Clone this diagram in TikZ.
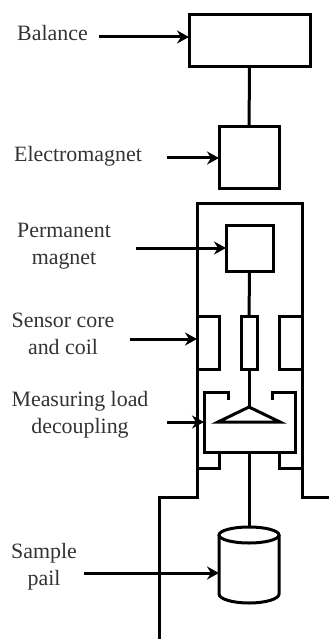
\documentclass[tikz,border=0pt]{standalone}
\usepackage{fontspec}
\setmainfont{Liberation Serif}
\usetikzlibrary{arrows.meta,positioning}

\begin{document}
\begin{tikzpicture}[x=1pt,y=-1pt]
\tikzstyle{part}=[rectangle,draw,line width=3pt,inner sep=0pt,outer sep=0pt]
\tikzstyle{lbl}=[inner sep=0pt,font=\fontsize{21.9}{27}\selectfont,text=black!80]
\tikzstyle{wall}=[line width=3pt,line join=miter]
\tikzstyle{pointer}=[line width=3pt,-{Stealth[length=12pt,width=13pt,inset=4pt]}]
\useasboundingbox (0,0) rectangle (329,639);
% boxes
\node[part,minimum width=121,minimum height=52] (balance) at (249.5,41) {};
\node[part,minimum width=60,minimum height=61] (emagnet) at (249,157.5) {};
\node[part,minimum width=47,minimum height=46] (pmagnet) at (249.5,248) {};
\node[part,minimum width=16,minimum height=53] (corerod) at (249,342.5) {};
\node[part,minimum width=22,minimum height=53] (coilleft) at (208,342.5) {};
\node[part,minimum width=23,minimum height=53] (coilright) at (290.5,342.5) {};
% frame
\draw[wall] (329,497) -- (302,497) -- (302,203) -- (197,203) -- (197,497) -- (159,497) -- (159,639);
% load decoupling
\coordinate (apex) at (249,407);
\coordinate (cupbase) at (249,452);
\draw[wall] (228,400) -- (228,392) -- (204,392) -- (204,452) -- (295,452) -- (295,392) -- (272,392) -- (272,400);
\draw[wall] (197,468) -- (219,468) -- (219,452);
\draw[wall] (302,468) -- (279,468) -- (279,452);
\draw[wall] (apex) -- (218,422) -- (280,422) -- cycle;
% pail
\coordinate (pailtop) at (249,527);
\draw[wall] (249,535) ellipse (30 and 8);
\draw[wall] (219,535) -- (219,594) arc[start angle=180,end angle=0,x radius=30,y radius=9] -- (279,535);
% links
\draw[wall] (balance) -- (emagnet);
\draw[wall] (pmagnet) -- (corerod);
\draw[wall] (corerod) -- (apex);
\draw[wall] (cupbase) -- (pailtop);
% labels
\node[lbl,anchor=base west] (balancetxt) at (17,41) {Balance};
\node[lbl,anchor=base west] (emagnettxt) at (14,162) {Electromagnet};
\node[lbl,align=center] (pmagnettxt) at (64,246.6) {Permanent\\magnet};
\node[lbl,align=center] (coiltxt) at (63,333.8) {Sensor core\\and coil};
\node[lbl,align=center] (decoupletxt) at (80,415) {Measuring load\\decoupling};
\node[lbl,align=center] (pailtxt) at (44,566.4) {Sample\\pail};
% pointers
\coordinate (balancefrom) at (99,37);
\coordinate (emagnetfrom) at (167,158);
\coordinate (pmagnetfrom) at (136,248);
\coordinate (coilfrom) at (130,339);
\coordinate (decouplefrom) at (167,422);
\coordinate (pailfrom) at (84,573);
\coordinate (coilto) at (197,339);
\coordinate (decoupleto) at (204,422);
\coordinate (pailto) at (219,573);
\draw[pointer] (balancefrom) -- (balancefrom -| balance.west);
\draw[pointer] (emagnetfrom) -- (emagnetfrom -| emagnet.west);
\draw[pointer] (pmagnetfrom) -- (pmagnet.west);
\draw[pointer] (coilfrom) -- (coilto);
\draw[pointer] (decouplefrom) -- (decoupleto);
\draw[pointer] (pailfrom) -- (pailto);
\end{tikzpicture}
\end{document}
